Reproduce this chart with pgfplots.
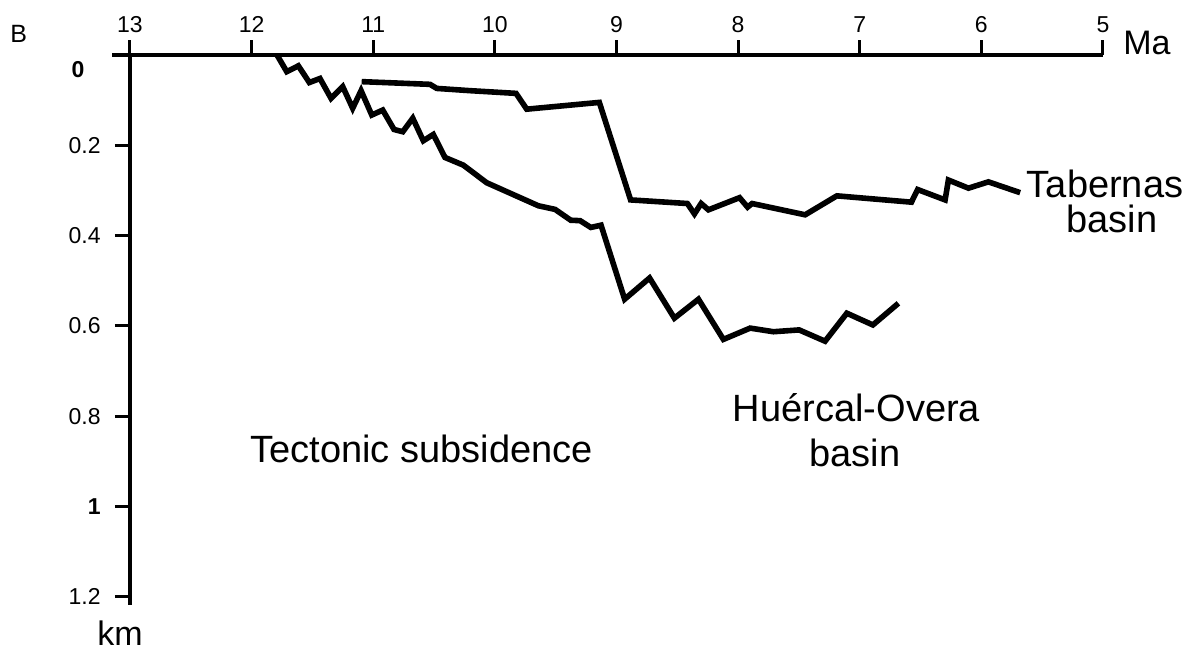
\documentclass[border=0pt]{standalone}
\usepackage{fontspec}
\setmainfont{Liberation Sans}
\usepackage{pgfplots}
\pgfplotsset{compat=1.18}
\begin{document}
\begin{tikzpicture}
\useasboundingbox (0,0) rectangle (596.5bp,330.5bp);
\begin{axis}[
  at={(65bp,32.15bp)}, anchor=south west,
  scale only axis, width=486.5bp, height=270.85bp,
  xmin=5, xmax=13, ymin=0, ymax=1.2,
  x dir=reverse, y dir=reverse,
  axis x line*=top, axis y line*=left,
  axis line style={-, line width=1.6bp, black},
  clip=false,
  tick align=outside,
  major tick length=7.5bp,
  tick style={line width=1.5bp, black},
  xtick={5,6,7,8,9,10,11,12,13},
  xticklabels={5,6,7,8,9,10,11,12,13},
  ytick={0.2,0.4,0.6,0.8,1,1.2},
  yticklabels={0.2,0.4,0.6,0.8,\textbf{1}\hspace{6bp},1.2},
  /pgf/number format/assume math mode=true,
  tick label style={font=\fontsize{11.5bp}{13bp}\selectfont, inner sep=0pt},
  xticklabel style={yshift=3.5bp},
  yticklabel style={anchor=east, xshift=-7bp},
]
\addplot[line width=2.8bp, black, line join=miter, miter limit=4] coordinates {
(11.791,0.000) (11.711,0.037) (11.616,0.024) (11.525,0.061) (11.438,0.052)
(11.347,0.096) (11.251,0.070) (11.169,0.118) (11.100,0.079) (11.012,0.133)
(10.922,0.122) (10.829,0.165) (10.757,0.170) (10.675,0.140) (10.588,0.190)
(10.506,0.176) (10.410,0.227) (10.259,0.244) (10.067,0.283) (9.642,0.334)
(9.505,0.342) (9.376,0.366) (9.299,0.367) (9.211,0.382) (9.127,0.377)
(8.933,0.541) (8.728,0.494) (8.524,0.583) (8.326,0.541) (8.121,0.630)
(7.901,0.605) (7.710,0.613) (7.498,0.609) (7.285,0.634) (7.106,0.572)
(6.892,0.598) (6.682,0.550)
};
\addplot[line width=2.8bp, black, line join=miter, miter limit=4] coordinates {
(11.095,0.059) (10.533,0.065) (10.478,0.074) (10.204,0.079) (9.826,0.085)
(9.738,0.120) (9.141,0.105) (8.884,0.321) (8.417,0.329) (8.359,0.352)
(8.304,0.329) (8.244,0.343) (7.988,0.316) (7.922,0.337) (7.885,0.329)
(7.449,0.354) (7.188,0.312) (6.575,0.326) (6.524,0.298) (6.298,0.321)
(6.271,0.277) (6.106,0.295) (5.942,0.281) (5.681,0.305)
};
\draw[line width=1.6bp] (axis cs:13,0) -- (axis cs:13.148,0);
\draw[line width=1.6bp] (axis cs:13,1.19) -- (axis cs:13,1.2177);
\end{axis}
\node[anchor=base west, inner sep=0pt, font=\fontsize{17bp}{20bp}\selectfont] at (561.5bp,303bp) {Ma};
\node[anchor=base west, inner sep=0pt, font=\fontsize{17bp}{20bp}\selectfont] at (48.5bp,8bp) {km};
\node[anchor=base west, inner sep=0pt, font=\fontsize{12.5bp}{14bp}\selectfont] at (5bp,309bp) {B};
\node[anchor=center, inner sep=0pt, font=\fontsize{11.5bp}{13bp}\selectfont\bfseries] at (39bp,295.5bp) {0};
\node[anchor=base, inner sep=0pt, font=\fontsize{19bp}{22bp}\selectfont] at (552.5bp,231.5bp) {Tabernas};
\node[anchor=base, inner sep=0pt, font=\fontsize{19bp}{22bp}\selectfont] at (556bp,214bp) {basin};
\node[anchor=base, inner sep=0pt, font=\fontsize{19bp}{22bp}\selectfont] at (428.25bp,119.65bp) {Huércal-Overa};
\node[anchor=base, inner sep=0pt, font=\fontsize{19bp}{22bp}\selectfont] at (427.5bp,97.15bp) {basin};
\node[anchor=base west, inner sep=0pt, font=\fontsize{19bp}{22bp}\selectfont] at (125bp,99.15bp) {Tectonic subsidence};
\end{tikzpicture}
\end{document}
